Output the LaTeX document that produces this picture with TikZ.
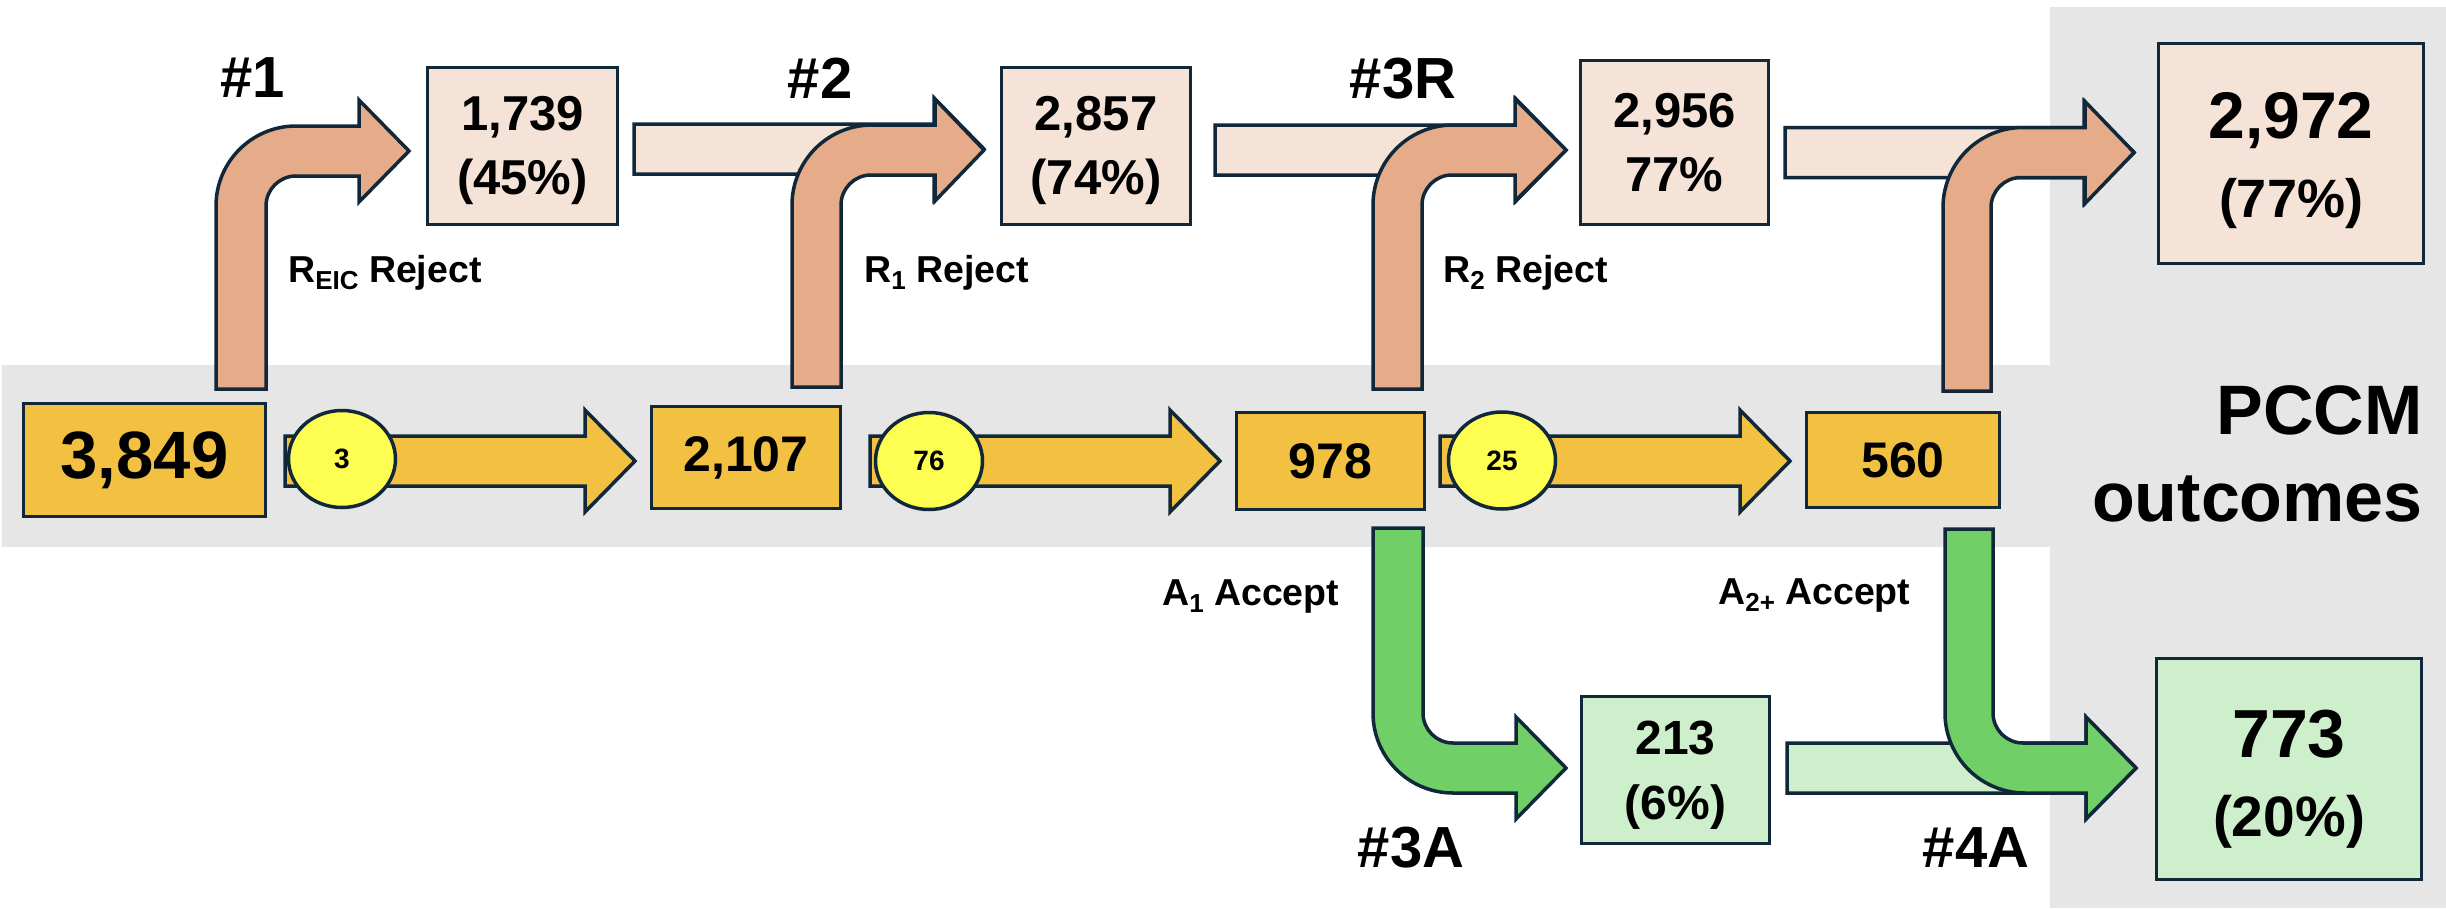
\documentclass[tikz,border=0pt]{standalone}
\usepackage{fontspec}
\setmainfont{Liberation Sans}
\usetikzlibrary{shapes.geometric}

\definecolor{edgeblue}{HTML}{10283A}
\definecolor{bandgray}{HTML}{E6E6E6}
\definecolor{flowgold}{HTML}{F3C142}
\definecolor{countyellow}{HTML}{FDFD52}
\definecolor{rejsalmon}{HTML}{E6AC8A}
\definecolor{rejlight}{HTML}{F5E3D8}
\definecolor{accgreen}{HTML}{71CF68}
\definecolor{acclight}{HTML}{CDEFCB}

\tikzset{
  blockline/.style={draw=edgeblue, line width=3.5pt, line join=miter},
  box/.style={blockline, rectangle, inner sep=0pt, align=center},
  flowbox/.style={box, fill=flowgold, font=\bfseries\fontsize{50}{60}\selectfont},
  rejbox/.style={box, fill=rejlight, font=\bfseries\fontsize{49}{64}\selectfont},
  accbox/.style={box, fill=acclight, font=\bfseries\fontsize{48}{65}\selectfont},
  countbubble/.style={blockline, ellipse, fill=countyellow, inner sep=0pt,
    minimum width=107pt, minimum height=97pt, font=\bfseries\fontsize{28}{30}\selectfont},
  steptag/.style={inner sep=0pt, anchor=base, font=\bfseries\fontsize{58}{60}\selectfont},
  pathtag/.style={inner sep=0pt, anchor=base west, font=\bfseries\fontsize{37.5}{40}\selectfont},
  paneltag/.style={inner sep=0pt, anchor=base east, font=\bfseries\fontsize{70}{80}\selectfont},
}

% lowered small text for the decision subscripts
\newcommand\lowtext[1]{\raisebox{-7pt}{\fontsize{26}{26}\selectfont #1}}

% straight block arrow: colour, tail x, tip x, centre y
\newcommand\flatarrow[4]{%
  \path[blockline, fill=#1] (#2,#4-25) -- (#3-50,#4-25) -- (#3-50,#4-51) -- (#3,#4)
    -- (#3-50,#4+51) -- (#3-50,#4+25) -- (#2,#4+25) -- cycle;}

% block arrow rising then turning right:
% colour, shaft left x, shaft right x, foot y, arm centre y, head base x, tip x
\newcommand\bentup[7]{%
  \path[blockline, fill=#1] (#2,#4) -- (#2,#5+55)
    .. controls (#2,#5+10.82) and (#2+35.82,#5-25) .. (#2+80,#5-25)
    -- (#6,#5-25) -- (#6,#5-51) -- (#7,#5) -- (#6,#5+51) -- (#6,#5+25)
    -- (#3+30,#5+25) .. controls (#3+13.43,#5+25) and (#3,#5+38.43) .. (#3,#5+55)
    -- (#3,#4) -- cycle;}

% block arrow falling then turning right:
% colour, shaft left x, shaft right x, top y, arm centre y, head base x, tip x
\newcommand\bentdown[7]{%
  \path[blockline, fill=#1] (#2,#4) -- (#2,#5-55)
    .. controls (#2,#5-10.82) and (#2+35.82,#5+25) .. (#2+80,#5+25)
    -- (#6,#5+25) -- (#6,#5+51) -- (#7,#5) -- (#6,#5-51) -- (#6,#5-25)
    -- (#3+30,#5-25) .. controls (#3+13.43,#5-25) and (#3,#5-38.43) .. (#3,#5-55)
    -- (#3,#4) -- cycle;}

\begin{document}
\begin{tikzpicture}[x=1pt, y=-1pt]
  \useasboundingbox (0,0) rectangle (2446,908);

  % grey backdrop: the main pipeline band and the outcomes panel
  \fill[bandgray] (2,365) rectangle (2446,547);
  \fill[bandgray] (2050,7) rectangle (2446,908);

  % cumulative carry-over arrows
  \flatarrow{rejlight}{634}{984}{149}
  \flatarrow{rejlight}{1215}{1566}{150}
  \flatarrow{rejlight}{1785}{2134}{152.5}
  \flatarrow{acclight}{1787}{2136}{768}

  % reject branches
  \bentup{rejsalmon}{216}{266}{389}{151}{359}{409}
  \bentup{rejsalmon}{792}{841}{387}{150}{935}{984}
  \bentup{rejsalmon}{1373}{1422}{389}{150}{1515}{1566}
  \bentup{rejsalmon}{1943}{1991}{391}{152.5}{2085}{2134}

  % accept branches
  \bentdown{accgreen}{1373}{1423}{528}{768}{1516}{1566}
  \bentdown{accgreen}{1945}{1993}{529}{768}{2086}{2136}

  % main pipeline arrows
  \flatarrow{flowgold}{285}{635}{461}
  \flatarrow{flowgold}{870}{1220}{461}
  \flatarrow{flowgold}{1440}{1790}{461}

  % counts carried along the pipeline
  \node[countbubble] (c3)  at (342,459)   {3};
  \node[countbubble] (c76) at (929,461)   {76};
  \node[countbubble] (c25) at (1502,460.5) {25};

  % pipeline stages
  \node[flowbox, minimum width=242pt, minimum height=113pt,
        font=\bfseries\fontsize{67}{70}\selectfont] (b3849) at (144.5,460) {3,849};
  \node[flowbox, minimum width=189pt, minimum height=102pt] (b2107) at (746,457.5) {2,107};
  \node[flowbox, minimum width=188pt, minimum height=97pt]  (b978)  at (1330.5,461) {978};
  \node[flowbox, minimum width=193pt, minimum height=95pt]  (b560)  at (1903,460) {560};

  % rejected totals
  \node[rejbox, minimum width=190pt, minimum height=157pt] (b1739) at (522.5,146)
    {\rule{0pt}{43pt}1,739\\(45\%)};
  \node[rejbox, minimum width=189pt, minimum height=157pt] (b2857) at (1096,146)
    {\rule{0pt}{43pt}2,857\\(74\%)};
  \node[rejbox, minimum width=188pt, minimum height=164pt] (b2956) at (1674.5,142.5)
    {2,956\\77\%};
  \node[rejbox, minimum width=265pt, minimum height=220pt,
        font=\bfseries\fontsize{54}{79}\selectfont] (b2972) at (2291,153.5)
    {\rule{0pt}{61pt}{\fontsize{66}{79}\selectfont 2,972}\\(77\%)};

  % accepted totals
  \node[accbox, minimum width=188pt, minimum height=147pt] (b213) at (1675.5,770)
    {\rule{0pt}{43pt}213\\(6\%)};
  \node[accbox, minimum width=265pt, minimum height=221pt,
        font=\bfseries\fontsize{57}{79}\selectfont] (b773) at (2289,769)
    {\rule{0pt}{67pt}{\fontsize{68}{79}\selectfont 773}\\(20\%)};

  % step numbers
  \node[steptag] (s1)  at (253,97)   {\#1};
  \node[steptag] (s2)  at (820,98)   {\#2};
  \node[steptag] (s3r) at (1403,98)  {\#3R};
  \node[steptag] (s3a) at (1411,867) {\#3A};
  \node[steptag] (s4a) at (1976,867) {\#4A};

  % decision labels
  \node[pathtag] (lr0) at (288,282)  {R\lowtext{EIC} Reject};
  \node[pathtag] (lr1) at (864,282)  {R\lowtext{1} Reject};
  \node[pathtag] (lr2) at (1443,282) {R\lowtext{2} Reject};
  \node[pathtag] (la1) at (1162,605) {A\lowtext{1} Accept};
  \node[pathtag] (la2) at (1718,604) {A\lowtext{2+} Accept};

  % panel title
  \node[paneltag] (pt1) at (2423,434) {PCCM};
  \node[paneltag] (pt2) at (2423,521) {outcomes};
\end{tikzpicture}
\end{document}
